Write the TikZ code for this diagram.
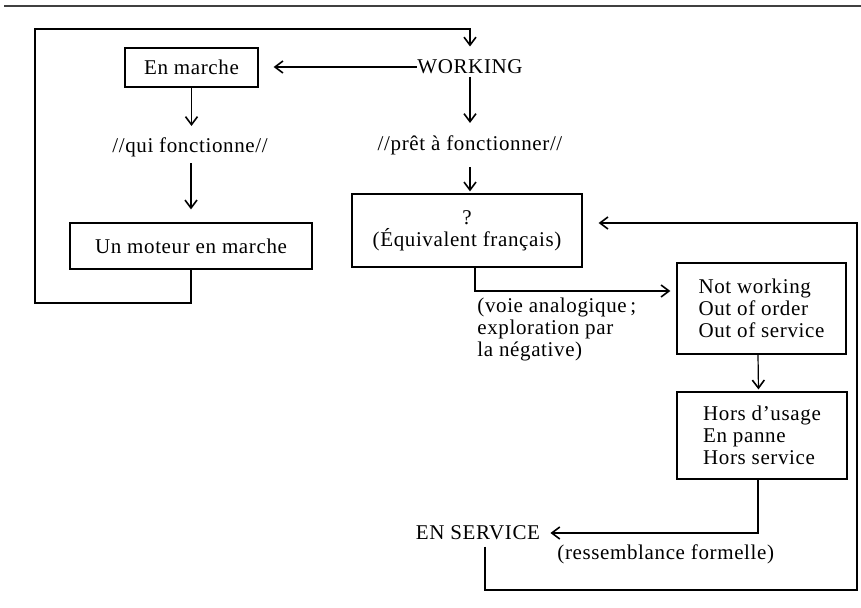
\documentclass[tikz,border=0pt]{standalone}
\usepackage{fontspec}
\setmainfont{Liberation Serif}[LetterSpace=3]
\usetikzlibrary{arrows.meta,calc}
\begin{document}
\begin{tikzpicture}[x=0.5pt,y=-0.5pt,
  every node/.style={font=\fontsize{10.5}{11}\selectfont},
  boxnode/.style={draw,line width=0.6pt,inner sep=0pt,align=center},
  lbl/.style={inner sep=0pt,align=center},
  arr/.style={line width=0.6pt,-{Straight Barb[length=4pt,width=6pt,line width=0.8pt]}},
  ln/.style={line width=0.6pt}]
\useasboundingbox (0,0) rectangle (861,608);
\draw[black!75,line width=0.8pt] (4,6) -- (861,6);

\node[boxnode,minimum width=66.5pt,minimum height=19.5pt] (em) at (191.5,67.5) {En marche};
\node[lbl] (wk) at (470,67) {WORKING};
\node[lbl] (q1) at (190,147) {//qui fonctionne//};
\node[boxnode,minimum width=121pt,minimum height=23pt] (mot) at (191,246) {Un moteur en marche};
\node[lbl] (q2) at (470,145) {//prêt à fonctionner//};
\node[boxnode,minimum width=115pt,minimum height=36.5pt] (eq) at (467,230.5) {?\\(Équivalent français)};
\node[boxnode,minimum width=84.5pt,minimum height=45.5pt,align=left] (nw) at (761.5,308.5) {Not working\\Out of order\\Out of service};
\node[boxnode,minimum width=85pt,minimum height=43.5pt,align=left] (hs) at (762,435.5) {Hors d’usage\\En panne\\Hors service};
\node[lbl,align=left,anchor=north west] (voie) at (477,298) {(voie analogique\,;\\exploration par\\la négative)};
\node[lbl] (ens) at (478,533) {EN SERVICE};
\node[lbl,anchor=west] (res) at (557,554) {(ressemblance formelle)};

\coordinate (lb) at (35,303);
\coordinate (lt) at (35,29);
\coordinate (rb) at (857,590);
\coordinate (rt) at (857,223);

\draw[arr,shorten >=7.5pt] (wk.west) -- (wk.west -| em.east);
\draw[arr,shorten >=5.5pt] (em.south) -- (q1.north -| em.south);
\draw[arr,shorten <=3pt,shorten >=6.5pt] (q1.south -| mot.north) -- (mot.north);
\draw[arr,shorten <=1pt,shorten >=6pt] (wk.south) -- (q2.north -| wk.south);
\draw[arr,shorten <=6pt,shorten >=1pt] (q2.south -| wk.south) -- (eq.north -| wk.south);
\draw[arr,shorten >=6.5pt] (mot.south) |- (lb) -- (lt) -| (wk.north);
\draw[arr,shorten >=3pt] ([xshift=4pt]eq.south) |- ([yshift=8.75pt]nw.west);
\draw[arr,shorten >=1pt] ([xshift=-1.75pt]nw.south) -- ([xshift=-1.75pt]hs.north);
\draw[arr,shorten >=5pt] ([xshift=-2pt]hs.south) |- (ens.east);
\draw[arr,shorten >=8pt,shorten <=3pt] ([xshift=3.5pt]ens.south) |- (rb) -- (rt) -- (rt -| eq.east);
\end{tikzpicture}
\end{document}
